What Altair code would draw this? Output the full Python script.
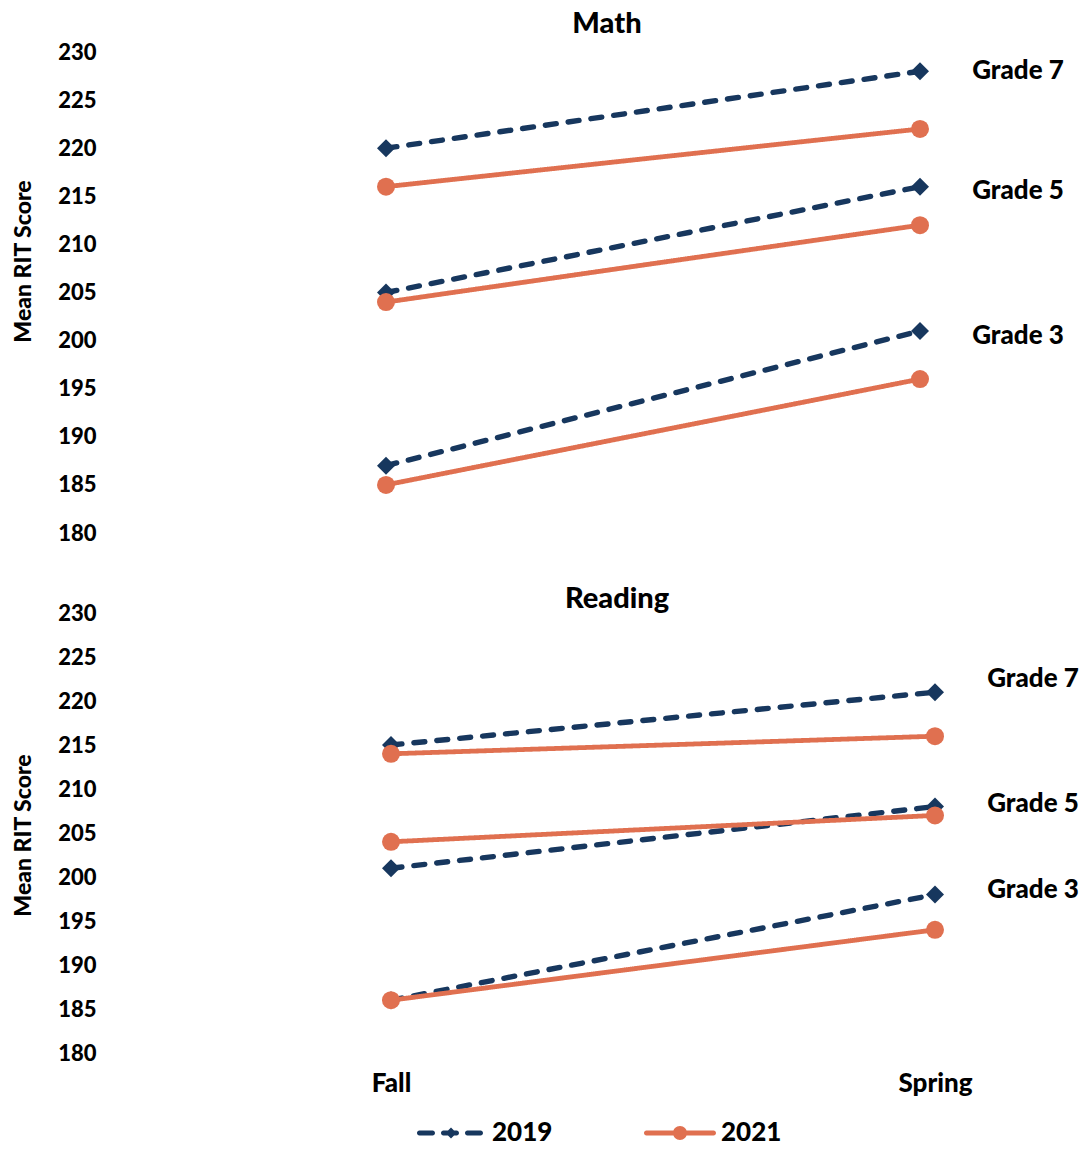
import altair as alt
import pandas as pd

# ---------------- data ----------------
terms = ["Fall", "Spring"]
grades = ["Grade 3", "Grade 5", "Grade 7"]
years = ["2019", "2021"]

math_fall_2019 = [187, 205, 220]
math_spring_2019 = [201, 216, 228]
math_fall_2021 = [185, 204, 216]
math_spring_2021 = [196, 212, 222]

reading_fall_2019 = [186, 201, 215]
reading_spring_2019 = [198, 208, 221]
reading_fall_2021 = [186, 204, 214]
reading_spring_2021 = [194, 207, 216]

# vertical anchor (score units) of the grade annotations
math_label_y = [200.5, 215.5, 228.0]
reading_label_y = [198.5, 208.3, 222.5]

y_ticks = [180, 185, 190, 195, 200, 205, 210, 215, 220, 225, 230]

NAVY = "#17375E"
ORANGE = "#E07050"
FONT = "Lato"
WEIGHT = 900
W = 960


def build_df(f19, s19, f21, s21):
    rows = []
    for i, g in enumerate(grades):
        rows.append(dict(term="Fall", grade=g, year="2019", score=f19[i]))
        rows.append(dict(term="Spring", grade=g, year="2019", score=s19[i]))
    for i, g in enumerate(grades):
        rows.append(dict(term="Fall", grade=g, year="2021", score=f21[i]))
        rows.append(dict(term="Spring", grade=g, year="2021", score=s21[i]))
    return pd.DataFrame(rows)


def build_labels(ys):
    return pd.DataFrame({"term": ["Spring"] * len(grades), "grade": grades, "ly": ys})


math_df = build_df(math_fall_2019, math_spring_2019, math_fall_2021, math_spring_2021)
reading_df = build_df(reading_fall_2019, reading_spring_2019, reading_fall_2021, reading_spring_2021)
math_lab = build_labels(math_label_y)
reading_lab = build_labels(reading_label_y)

# ---------------- legend symbols (custom SVG paths) ----------------
SYM_SIZE = 256          # layout box of 16 px; path drawn at 8 px per unit
S = 8.0
H = 2.4


def f(v):
    return f"{v / S:.4f}"


def dash(a, b):
    x1, x2 = a + H, b - H
    return (f"M{f(x1)},{f(-H)}L{f(x2)},{f(-H)}A{f(H)},{f(H)} 0 0 1 {f(x2)},{f(H)}"
            f"L{f(x1)},{f(H)}A{f(H)},{f(H)} 0 0 1 {f(x1)},{f(-H)}Z")


def diamond(d):
    return f"M{f(-d)},0L0,{f(-d)}L{f(d)},0L0,{f(d)}Z"


def circle(r):
    return f"M{f(-r)},0A{f(r)},{f(r)} 0 1 1 {f(r)},0A{f(r)},{f(r)} 0 1 1 {f(-r)},0Z"


path_2019 = dash(-34, -16) + dash(-10, 8) + dash(14, 32) + diamond(5.5)
path_2021 = dash(-36, 36) + circle(7)

STYLE = {
    "2019": dict(color=NAVY, dash=[11, 12], shape="diamond", width=5.4),
    "2021": dict(color=ORANGE, dash=[1, 0], shape="circle", width=4.8),
}


def panel(df, lab, title, height, x_range, show_x, title_offset, title_dx, title_dy,
          ytitle_y, with_legend):
    xs = alt.Scale(type="point", domain=terms, range=x_range, padding=0)
    if show_x:
        xaxis = alt.Axis(title=None, labelAngle=0, labelFontSize=26, labelFont=FONT,
                         labelFontWeight=WEIGHT, labelColor="black", domain=False,
                         ticks=False, tickSize=0, labelPadding=17, grid=False)
        x = alt.X("term:N", scale=xs, axis=xaxis)
    else:
        x = alt.X("term:N", scale=xs, axis=None)
    y = alt.Y("score:Q",
              scale=alt.Scale(domain=[180, 230], nice=False, zero=False),
              axis=alt.Axis(values=y_ticks, title="Mean RIT Score", grid=False, domain=False,
                            ticks=False, tickSize=0, labelFontSize=22, labelFont=FONT,
                            labelFontWeight=WEIGHT, labelColor="black", labelPadding=10,
                            titleFontSize=23, titleFont=FONT, titleFontWeight=WEIGHT,
                            titleColor="black", titlePadding=22, titleY=ytitle_y))
    base = alt.Chart(df)
    layers = []
    for yr in years:
        st = STYLE[yr]
        layers.append(base.transform_filter(alt.datum.year == yr).mark_line(
            strokeWidth=st["width"], strokeCap="round", color=st["color"], strokeDash=st["dash"]
        ).encode(x=x, y=y, detail="grade:N"))
    for yr in years:
        st = STYLE[yr]
        layers.append(base.transform_filter(alt.datum.year == yr).mark_point(
            shape=st["shape"], filled=True, size=324, opacity=1, color=st["color"]
        ).encode(x=x, y=y))
    texts = alt.Chart(lab).mark_text(font=FONT, fontSize=26, fontWeight=WEIGHT, color="black",
                                     align="center", baseline="middle", dx=98).encode(
        x=alt.X("term:N", scale=xs), y=alt.Y("ly:Q"), text="grade:N")
    layers.append(texts)
    if with_legend:
        leg = alt.Legend(title=None, orient="none", legendX=332, legendY=1068,
                         direction="horizontal", symbolSize=SYM_SIZE, symbolStrokeWidth=0,
                         symbolOpacity=1, labelFontSize=26, labelFont=FONT,
                         labelFontWeight=WEIGHT, labelColor="black", labelOffset=28,
                         columnPadding=91, padding=0)
        hidden = base.mark_point(filled=True, size=SYM_SIZE, opacity=0, strokeWidth=0).encode(
            x=x, y=y,
            color=alt.Color("year:N", scale=alt.Scale(domain=years, range=[NAVY, ORANGE]), legend=leg),
            shape=alt.Shape("year:N", scale=alt.Scale(domain=years, range=[path_2019, path_2021]),
                            legend=leg))
        layers.append(hidden)
    return alt.layer(*layers).properties(
        width=W, height=height,
        title=alt.TitleParams(title, fontSize=29, font=FONT, fontWeight=WEIGHT, color="black",
                              anchor="middle", frame="group", offset=title_offset,
                              dx=title_dx, dy=title_dy))


math_chart = panel(math_df, math_lab, "Math", 481, [280, 814], False, 2, 21, 0, 209, False)
reading_chart = panel(reading_df, reading_lab, "Reading", 440, [285, 829], True, 4, 31, 16, 222, True)

chart = alt.vconcat(math_chart, reading_chart, spacing=41).properties(
    padding={"left": 4, "top": 2, "right": 0, "bottom": 0}
).configure_view(stroke=None)

chart.save("out.html", embed_options={"renderer": "svg", "actions": False})
